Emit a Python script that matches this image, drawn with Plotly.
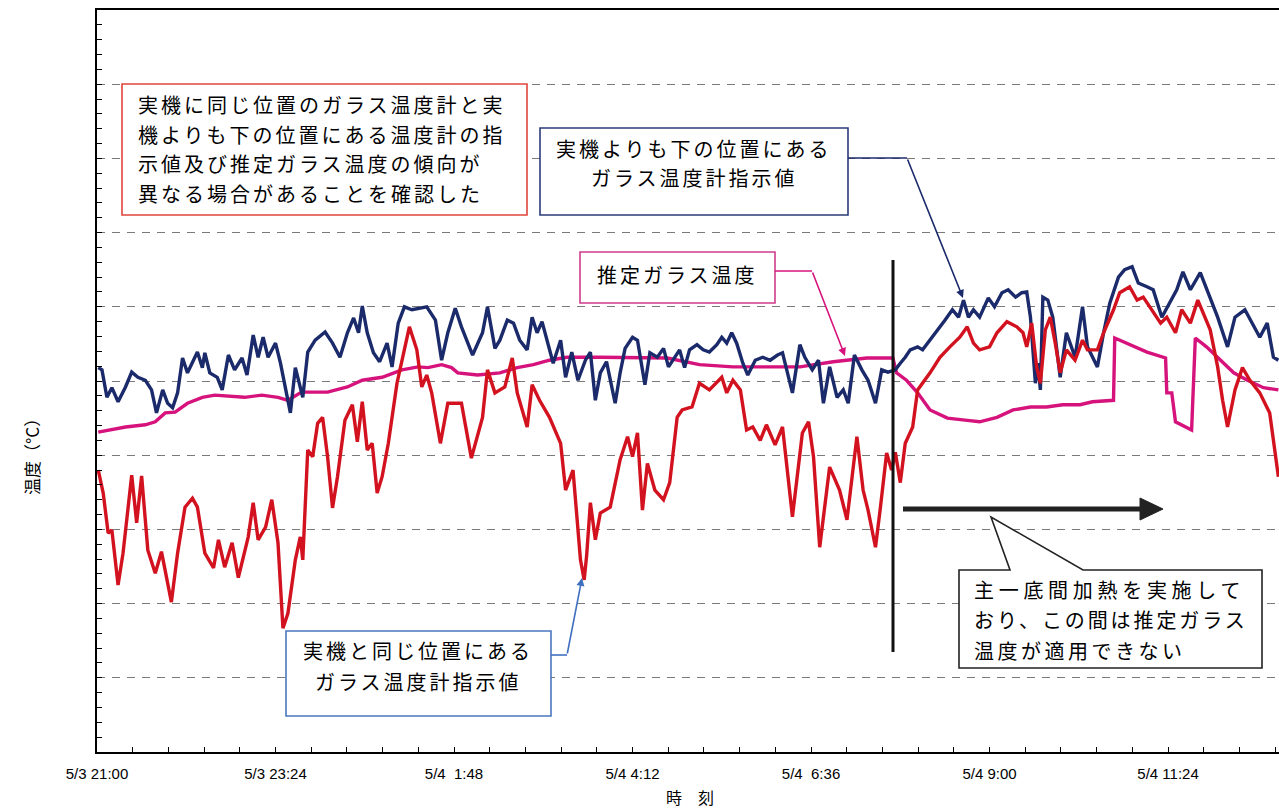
import pandas as pd
import plotly.graph_objects as go

START = "2016-05-03 21:00"
END_MIN = 953.5

# ---- data: minutes after 5/3 21:00 and relative temperature (no scale shown) ----
red_min = [1, 5, 9, 12, 17, 21, 28, 32, 36, 41, 47, 52, 60, 65, 71, 77, 81, 87, 94, 98,
           103, 109, 114, 122, 126, 130, 136, 141, 146, 150, 154, 160, 164, 166, 170, 174,
           178, 182, 186, 190, 194, 200, 206, 210, 214, 218, 222, 226, 230, 235, 242, 248,
           252, 258, 262, 266, 270, 277, 283, 294, 302, 311, 315, 321, 329, 335, 339, 347,
           351, 357, 365, 374, 378, 384, 390, 393, 395, 398, 402, 406, 414, 422, 428, 432,
           436, 440, 444, 450, 457, 462, 468, 472, 480, 486, 494, 504, 508, 513, 519, 524,
           529, 535, 540, 547, 553, 561, 569, 574, 578, 583, 591, 599, 605, 613, 618, 622,
           628, 632, 637, 641, 644, 648, 652, 658, 662, 672, 680, 688, 696, 702, 707, 712,
           720, 726, 734, 742, 747, 750, 754, 758, 761, 765, 769, 773, 777, 782, 789, 795,
           799, 807, 812, 820, 825, 833, 839, 844, 849, 858, 863, 870, 875, 882, 888, 894,
           898, 904, 908, 912, 918, 924, 930, 938, 946, 953]
red_val = [3.80, 3.49, 2.95, 2.99, 2.25, 2.68, 3.73, 3.09, 3.72, 2.72, 2.41, 2.70, 2.02, 2.68,
           3.30, 3.42, 3.30, 2.68, 2.48, 2.86, 2.49, 2.82, 2.35, 2.90, 3.36, 2.86, 3.03, 3.40,
           2.82, 1.67, 1.87, 2.59, 2.90, 2.59, 4.07, 3.98, 4.43, 4.51, 3.98, 3.29, 3.71, 4.47,
           4.68, 4.18, 4.72, 4.07, 4.16, 3.49, 3.71, 4.16, 4.97, 5.46, 5.73, 5.42, 4.92, 5.08,
           4.84, 4.16, 4.70, 4.70, 3.96, 4.51, 5.15, 4.84, 4.92, 5.31, 4.84, 4.38, 4.95, 4.74,
           4.51, 4.16, 3.53, 3.80, 2.59, 2.32, 2.65, 3.36, 2.86, 3.22, 3.30, 3.94, 4.25, 3.98,
           4.30, 3.26, 3.89, 3.53, 3.40, 3.63, 4.51, 4.61, 4.65, 4.97, 4.88, 5.05, 4.84, 5.01,
           4.88, 4.34, 4.38, 4.20, 4.41, 4.14, 4.38, 3.17, 4.30, 4.45, 3.98, 2.76, 3.84, 3.53,
           3.13, 4.25, 3.53, 3.26, 2.76, 3.30, 4.03, 3.80, 4.04, 3.63, 4.16, 4.38, 4.88, 5.11,
           5.32, 5.46, 5.59, 5.73, 5.51, 5.42, 5.46, 5.65, 5.80, 5.73, 5.65, 5.46, 5.78, 5.19,
           4.97, 5.69, 5.86, 5.51, 5.11, 5.42, 5.28, 5.55, 5.42, 5.42, 5.65, 5.96, 6.19, 6.27,
           6.09, 6.13, 6.00, 5.78, 5.86, 5.65, 5.96, 5.78, 6.09, 5.86, 5.69, 5.19, 4.74, 4.38,
           4.88, 5.18, 5.01, 4.84, 4.57, 3.71]

blue_min = [1, 4, 8, 12, 17, 23, 28, 33, 39, 44, 48, 53, 57, 61, 65, 69, 73, 81, 85, 87,
            91, 97, 101, 106, 111, 117, 121, 126, 130, 134, 138, 144, 148, 152, 156, 160,
            166, 170, 176, 184, 190, 196, 202, 207, 211, 214, 218, 223, 228, 234, 238, 243,
            248, 254, 261, 266, 273, 278, 283, 289, 294, 303, 311, 315, 321, 325, 331, 336,
            341, 347, 351, 355, 359, 363, 368, 374, 378, 383, 388, 394, 398, 402, 406, 411,
            418, 422, 426, 432, 436, 442, 446, 452, 457, 461, 466, 470, 474, 478, 484, 489,
            494, 500, 504, 508, 512, 516, 521, 525, 531, 537, 543, 549, 553, 557, 561, 567,
            571, 577, 582, 586, 591, 597, 602, 606, 611, 617, 622, 628, 633, 638, 644, 648,
            652, 656, 662, 666, 672, 678, 684, 690, 695, 699, 703, 707, 712, 719, 724, 730,
            735, 741, 746, 750, 753, 757, 759, 761, 763, 767, 771, 777, 782, 789, 795, 799,
            807, 812, 817, 824, 829, 835, 840, 847, 852, 859, 866, 871, 876, 882, 890, 896,
            904, 912, 918, 926, 933, 938, 944, 949, 953]
blue_val = [5.18, 5.15, 4.78, 4.91, 4.72, 4.92, 5.12, 5.05, 5.01, 4.88, 4.57, 4.88, 4.70,
            4.64, 4.84, 5.31, 5.11, 5.39, 5.18, 5.38, 5.11, 5.05, 4.88, 5.35, 5.15, 5.31,
            5.08, 5.62, 5.32, 5.59, 5.32, 5.51, 5.24, 4.92, 4.57, 5.18, 4.78, 5.39, 5.55,
            5.66, 5.51, 5.32, 5.65, 5.85, 5.65, 6.01, 5.65, 5.38, 5.26, 5.51, 5.19, 5.78,
            6.00, 5.96, 5.98, 6.00, 5.82, 5.28, 5.65, 5.98, 5.73, 5.35, 5.65, 6.00, 5.44,
            5.55, 5.82, 5.78, 5.55, 5.42, 5.86, 5.65, 5.80, 5.55, 5.24, 5.55, 5.05, 5.39,
            5.01, 5.28, 5.39, 4.74, 5.11, 5.26, 4.70, 5.11, 5.44, 5.59, 5.55, 4.95, 5.38,
            5.32, 5.44, 5.19, 5.32, 5.42, 5.18, 5.42, 5.49, 5.42, 5.39, 5.49, 5.59, 5.51,
            5.65, 5.51, 5.24, 5.08, 5.28, 5.32, 5.28, 5.35, 5.38, 5.11, 4.84, 5.49, 5.32,
            5.15, 5.28, 4.70, 5.19, 4.78, 4.88, 4.70, 5.35, 5.15, 5.01, 4.70, 5.15, 5.12,
            5.15, 5.24, 5.32, 5.42, 5.46, 5.42, 5.55, 5.69, 5.82, 5.96, 5.86, 6.09, 5.86,
            5.96, 5.86, 6.12, 6.00, 6.19, 6.23, 6.13, 6.19, 6.20, 5.86, 4.97, 5.24, 4.88,
            6.13, 6.09, 5.86, 5.05, 5.65, 5.32, 6.00, 5.46, 5.19, 5.65, 6.05, 6.40, 6.50,
            6.54, 6.32, 6.27, 6.23, 5.86, 6.09, 6.23, 6.47, 6.23, 6.46, 6.19, 5.86, 5.46,
            5.86, 5.96, 5.73, 5.59, 5.78, 5.32, 5.28]

est_min = [1, 12, 23, 39, 47, 55, 63, 73, 85, 95, 106, 119, 133, 146, 154, 165, 186, 202,
           214, 230, 246, 259, 267, 278, 286, 291, 307, 325, 339, 352, 365, 379, 406, 432,
           460, 486, 513, 540, 567, 594, 621, 642, 645, 653, 662, 672, 686, 702, 712, 726,
           739, 753, 766, 779, 793, 803, 820, 821, 833, 847, 862, 863, 867, 870, 883, 886,
           895, 906, 917, 928, 941, 953]
est_val = [4.31, 4.34, 4.38, 4.41, 4.45, 4.57, 4.58, 4.70, 4.78, 4.81, 4.80, 4.78, 4.81,
           4.78, 4.74, 4.85, 4.85, 4.92, 5.01, 5.05, 5.15, 5.19, 5.18, 5.22, 5.18, 5.11,
           5.08, 5.11, 5.18, 5.22, 5.28, 5.32, 5.32, 5.32, 5.31, 5.22, 5.19, 5.19, 5.19,
           5.26, 5.31, 5.31, 5.11, 5.01, 4.84, 4.61, 4.50, 4.47, 4.45, 4.51, 4.61, 4.65,
           4.65, 4.68, 4.68, 4.72, 4.74, 5.58, 5.49, 5.39, 5.31, 4.84, 4.84, 4.45, 4.34,
           5.58, 5.46, 5.28, 5.11, 5.01, 4.91, 4.88]

tick_min = [0, 144, 288, 432, 576, 720, 864]
tick_text = ["5/3 21:00", "5/3 23:24", "5/4  1:48", "5/4 4:12", "5/4  6:36", "5/4 9:00", "5/4 11:24"]

RED = "#d3121f"
NAVY = "#1b2a6a"
MAG = "#d6137c"
JP = "Noto Sans CJK JP"

t0 = pd.Timestamp(START)


def to_time(mins):
    return [t0 + pd.Timedelta(minutes=m) for m in mins]


# pixel -> paper helpers for layout items
L, R, T, B = 97, 1279, 10, 752


def px(x):
    return (x - L) / (R - L)


def py(y):
    return (B - y) / (B - T)


fig = go.Figure()
fig.add_trace(go.Scatter(x=to_time(est_min), y=est_val, mode="lines",
                         line=dict(color=MAG, width=3.4), hoverinfo="skip"))
fig.add_trace(go.Scatter(x=to_time(blue_min), y=blue_val, mode="lines",
                         line=dict(color=NAVY, width=3.4), hoverinfo="skip"))
fig.add_trace(go.Scatter(x=to_time(red_min), y=red_val, mode="lines",
                         line=dict(color=RED, width=3.4), hoverinfo="skip"))

fig.update_layout(
    width=1279, height=808,
    margin=dict(l=L, r=1279 - R, t=T, b=808 - B),
    paper_bgcolor="white", plot_bgcolor="white", showlegend=False,
    font=dict(family=JP, color="black"),
)
fig.update_xaxes(
    type="date",
    range=[t0, t0 + pd.Timedelta(minutes=END_MIN)],
    tickmode="array", tickvals=to_time(tick_min), ticktext=tick_text,
    ticks="inside", ticklen=5, tickwidth=1, tickcolor="black",
    minor=dict(ticks="inside", ticklen=5, tickwidth=1, tickcolor="black",
               tickmode="linear", tick0=t0, dtick=28.8 * 60 * 1000, showgrid=False),
    showline=True, linecolor="black", linewidth=2, mirror=True,
    showgrid=False, zeroline=False,
    tickfont=dict(family="Liberation Sans", size=15, color="black"),
    ticklabelstandoff=7,
)
fig.update_yaxes(
    range=[0, 10], dtick=1, tick0=0,
    showticklabels=False,
    ticks="inside", ticklen=5, tickwidth=1, tickcolor="black",
    minor=dict(ticks="inside", ticklen=5, tickwidth=1, tickcolor="black", dtick=0.2, showgrid=False),
    showline=True, linecolor="black", linewidth=2, mirror=False,
    showgrid=True, gridcolor="#7a7a7a", gridwidth=1.3, griddash="8px,7px",
    zeroline=False,
)

shapes = []
annotations = []


def box(x0, y0, x1, y1, color):
    shapes.append(dict(type="rect", xref="paper", yref="paper",
                       x0=px(x0), x1=px(x1), y0=py(y1), y1=py(y0),
                       line=dict(color=color, width=1.6), fillcolor="white", layer="above"))


def lines(x, ys, texts, xanchor="center", size=20, spacing=3):
    if not isinstance(spacing, (list, tuple)):
        spacing = [spacing] * len(texts)
    for y, s, sp in zip(ys, texts, spacing):
        annotations.append(dict(xref="paper", yref="paper", x=px(x), y=py(y),
                                text='<span style="letter-spacing:{}px">{}</span>'.format(sp, s),
                                showarrow=False, xanchor=xanchor, yanchor="middle",
                                font=dict(family=JP, size=size, color="black")))


def seg(x0, y0, x1, y1, color, width=1.6):
    shapes.append(dict(type="line", xref="paper", yref="paper",
                       x0=px(x0), y0=py(y0), x1=px(x1), y1=py(y1),
                       line=dict(color=color, width=width), layer="above"))


def arrow(xt, yt, xh, yh, color, width=1.6):
    annotations.append(dict(xref="paper", yref="paper", x=px(xh), y=py(yh), text="",
                            showarrow=True, axref="pixel", ayref="pixel",
                            ax=xt - xh, ay=yt - yh, arrowhead=2, arrowsize=1.0,
                            arrowwidth=width, arrowcolor=color, standoff=0, startstandoff=0))


# red note box
box(122, 84, 527, 215, "#e0453a")
lines(136, [105, 134.5, 164, 193.5],
      ["実機に同じ位置のガラス温度計と実", "機よりも下の位置にある温度計の指",
       "示値及び推定ガラス温度の傾向が", "異なる場合があることを確認した"],
      xanchor="left")

# navy label
box(540, 128, 848, 215, "#2b3b78")
lines(694, [148, 178], ["実機よりも下の位置にある", "ガラス温度計指示値"])
seg(848, 158, 907, 158, NAVY)
arrow(907, 158, 963, 298, NAVY)

# magenta label
box(580, 252, 775, 303, "#cf3c8c")
lines(677, [274], ["推定ガラス温度"])
seg(775, 271, 812, 271, MAG)
arrow(812, 271, 845, 356, MAG)

# blue label
box(286, 631, 551, 716, "#4a78bd")
lines(418, [650, 681], ["実機と同じ位置にある", "ガラス温度計指示値"])
seg(551, 655, 567, 655, "#3f6fbf")
arrow(567, 655, 582, 578, "#3f6fbf")

# callout box for heating period
cpath = "M {},{} L {},{} L {},{} L {},{} L {},{} L {},{} L {},{} Z".format(
    px(959), py(570), px(1010), py(570), px(991), py(517), px(1083), py(570),
    px(1262), py(570), px(1262), py(668), px(959), py(668))
shapes.append(dict(type="path", xref="paper", yref="paper", path=cpath,
                   line=dict(color="#222222", width=1.6), fillcolor="white", layer="above"))
lines(972, [589, 619.5, 650],
      ["主一底間加熱を実施して", "おり、この間は推定ガラス", "温度が適用できない"],
      xanchor="left", spacing=[4.7, 2.9, 3.5])

# vertical divider and period arrow
seg(893, 260, 893, 652, "#111111", width=3)
seg(903, 509, 1142, 509, "#222222", width=5)
tri = "M {},{} L {},{} L {},{} Z".format(px(1140), py(498), px(1163), py(509), px(1140), py(520))
shapes.append(dict(type="path", xref="paper", yref="paper", path=tri,
                   line=dict(color="#222222", width=1), fillcolor="#222222", layer="above"))

# axis titles
annotations.append(dict(xref="paper", yref="paper", x=px(31), y=py(453), text="温度（°C）",
                        showarrow=False, textangle=-90, xanchor="center", yanchor="middle",
                        font=dict(family=JP, size=17, color="black")))
annotations.append(dict(xref="paper", yref="paper", x=px(690), y=py(797), text="時　刻",
                        showarrow=False, xanchor="center", yanchor="middle",
                        font=dict(family=JP, size=16, color="black")))

fig.update_layout(shapes=shapes, annotations=annotations)
fig.write_html("out.html")
